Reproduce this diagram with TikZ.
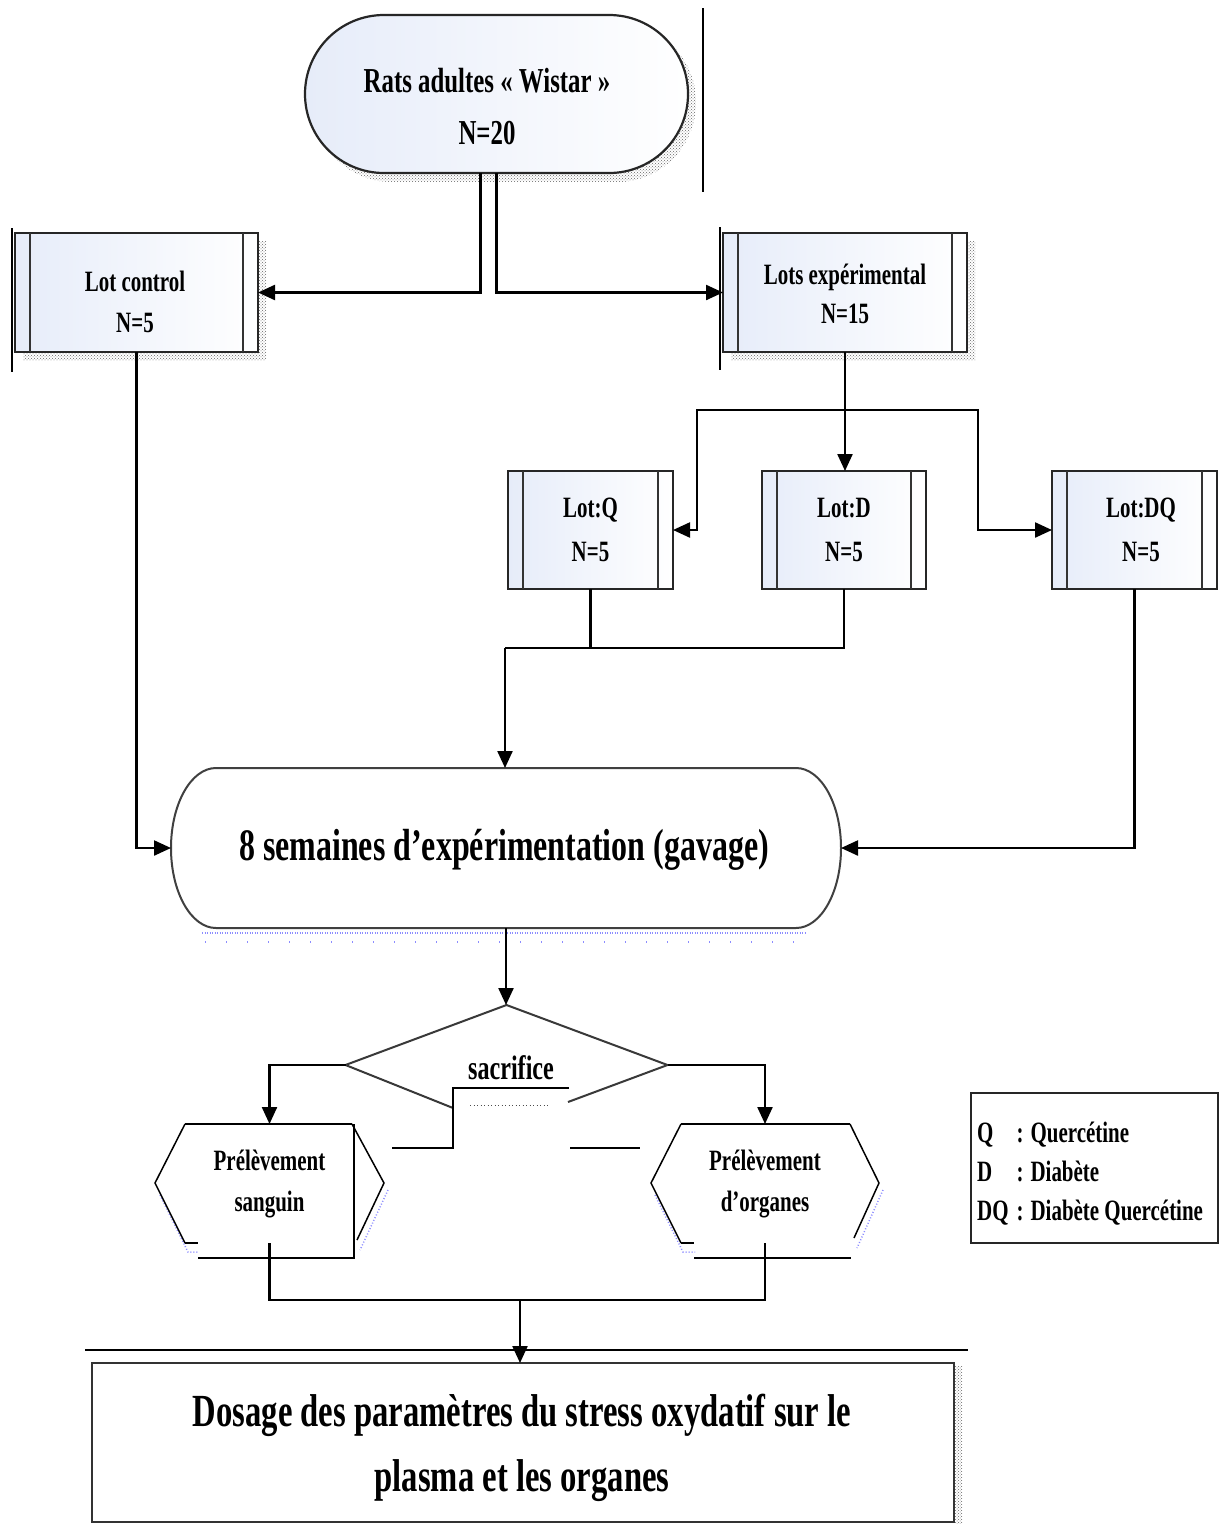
\documentclass[tikz,border=0pt]{standalone}
\usepackage{fontspec}
\setmainfont{Liberation Serif}[FakeStretch=0.71]
\usetikzlibrary{arrows.meta,patterns,shapes.geometric}
\definecolor{boxblue}{RGB}{230,236,249}
\begin{document}
\begin{tikzpicture}[x=1pt,y=-1pt,
  conn/.style={line width=2.3pt},
  arr/.style={line width=2.3pt,-{Triangle[length=17pt,width=15pt]}},
  lotbox/.style={draw=black!85,line width=2.2pt,left color=boxblue,right color=white,inner sep=0pt,outer sep=0pt,minimum height=119},
  ghost/.style={inner sep=0pt,outer sep=0pt},
  shadowdots/.style={pattern=crosshatch dots,pattern color=black!60},
  hexline/.style={line width=1.5pt},
  bluedots/.style={blue!45,line width=1.5pt,dash pattern=on 1pt off 2pt},
  artifact/.style={line width=1.2pt},
  t27/.style={inner sep=0pt,align=center,font=\bfseries\fontsize{29.5}{#1}\selectfont}
]
\fill[white] (0,0) rectangle (1220,1524);
\useasboundingbox (0,0) rectangle (1220,1524);

% shadows
\fill[shadowdots,rounded corners=78.9] (313,23) rectangle (696,182);
\fill[shadowdots] (23,241) rectangle (266,360);
\fill[shadowdots] (731,241) rectangle (975,360);
\fill[shadowdots] (955,1366) rectangle (962,1524);
\draw[blue!45,line width=1.2pt,dash pattern=on 1pt off 1.5pt] (202,933) -- (807,933);
\draw[blue!45,line width=1.2pt,dash pattern=on 1pt off 20pt] (205,942) -- (807,942);

% top box
\node[lotbox,rounded corners=78.9,minimum width=383,minimum height=158] (rats) at (496.5,94) {};
\node[inner sep=0pt,align=center,font=\bfseries\fontsize{35}{52}\selectfont] (ratsT) at (487,107) {Rats adultes « Wistar »\\N=20};

% lots
\node[lotbox,minimum width=243] (lotc) at (136.5,292.5) {};
\node[t27=41] (lotcT) at (135,302) {Lot control\\N=5};
\node[lotbox,minimum width=244] (lotx) at (845,292.5) {};
\node[t27=39] (lotxT) at (845,293.5) {Lots expérimental\\N=15};
\node[lotbox,minimum width=165,minimum height=118] (lotQ) at (590.5,530) {};
\node[t27=44] (lotQT) at (590.5,530) {Lot:Q\\N=5};
\node[lotbox,minimum width=164,minimum height=118] (lotD) at (844,530) {};
\node[t27=44] (lotDT) at (844,530) {Lot:D\\N=5};
\node[lotbox,minimum width=165,minimum height=118] (lotDQ) at (1134.5,530) {};
\node[t27=44] (lotDQT) at (1141,530) {Lot:DQ\\N=5};
\foreach \n in {lotc,lotx,lotQ,lotD,lotDQ}{
  \draw[line width=1.5pt,black!80] ([xshift=15]\n.north west) -- ([xshift=15]\n.south west);
  \draw[line width=1.5pt,black!80] ([xshift=-15]\n.north east) -- ([xshift=-15]\n.south east);
}

% big box
\node[ghost,minimum width=670,minimum height=160] (big) at (506,848) {};
\draw[black!75,line width=2pt] (216,768) -- (796,768) arc[start angle=-90,end angle=90,x radius=45,y radius=80] -- (216,928) arc[start angle=90,end angle=270,x radius=45,y radius=80] -- cycle;
\node[anchor=base,inner sep=0pt,font=\bfseries\fontsize{45}{45}\selectfont] (bigT) at (504,860) {8 semaines d’expérimentation (gavage)};

% diamond
\node[diamond,ghost,minimum width=322,minimum height=120] (sac) at (506.5,1065) {};
\draw[gray!45!black,line width=2pt] (453,1108) -- (sac.west) -- (sac.north) -- (sac.east) -- (568,1102);
\node[anchor=base,inner sep=0pt,font=\bfseries\fontsize{34}{34}\selectfont] (sacT) at (511,1079) {sacrifice};
\draw[artifact] (569,1088) -- (453,1088) -- (453,1148) -- (392,1148);
\draw[artifact] (570,1148) -- (640,1148);
\draw[black!70,line width=1pt,dash pattern=on 1pt off 2.5pt] (470,1105) -- (550,1105);

% hexagons
\node[ghost,minimum width=229,minimum height=119,align=center,font=\bfseries\fontsize{29.5}{41}\selectfont] (hexL) at (269.5,1183.5) {Prélèvement\\sanguin};
\node[ghost,minimum width=228,minimum height=119,align=center,font=\bfseries\fontsize{29.5}{41}\selectfont] (hexR) at (765,1183.5) {Prélèvement\\d’organes};
\draw[bluedots] (160,1195) -- (188,1252) -- (199,1252);
\draw[bluedots] (388,1190) -- (360,1250);
\draw[bluedots] (655,1195) -- (683,1252) -- (695,1252);
\draw[bluedots] (883,1190) -- (857,1248);
\draw[line width=2.6pt] (185,1124) -- (352,1124);
\draw[hexline] (185,1124) -- (155,1183) -- (185,1243);
\draw[line width=2.8pt] (185,1243) -- (198,1243);
\draw[hexline] (352,1124) -- (384,1183) -- (357,1240);
\draw[hexline] (354,1124) -- (354,1258) -- (198,1258);
\draw[line width=2.6pt] (681,1124) -- (850,1124);
\draw[hexline] (681,1124) -- (651,1183) -- (681,1243);
\draw[line width=2.8pt] (681,1243) -- (694,1243);
\draw[hexline] (850,1124) -- (879,1183) -- (854,1238);
\draw[hexline] (694,1258) -- (851,1258);

% bottom box
\node[ghost,draw=black!80,line width=2pt,minimum width=862,minimum height=159] (dose) at (523,1442.5) {};
\node[inner sep=0pt,align=center,font=\bfseries\fontsize{46}{65}\selectfont] (doseT) at (522,1448) {Dosage des paramètres du stress oxydatif sur le\\plasma et les organes};

% legend
\node[ghost,draw=black!85,line width=1.8pt,minimum width=247,minimum height=150] (leg) at (1094.5,1168) {};
\node[anchor=base west,inner sep=0pt,font=\bfseries\fontsize{29.5}{39}\selectfont] (legT) at (977,1142) {\begin{tabular}[t]{@{}l@{\hspace{8pt}}l@{\hspace{7pt}}l@{}}Q & : & Quercétine\\ D & : & Diabète\\ DQ & : & Diabète Quercétine\end{tabular}};

% artifacts
\draw[artifact] (703,8) -- (703,192);
\draw[artifact] (12,228) -- (12,372);
\draw[artifact] (720,227) -- (720,370);
\draw[artifact] (85,1350) -- (968,1350);

% connectors
\draw[arr] ([xshift=-16]rats.south) |- (lotc.east);
\draw[arr] (rats.south) |- (lotx.west);
\draw[arr] (lotx.south) -- (lotx.south |- lotD.north);
\coordinate (br) at (845,410);
\draw[arr] (br) -| ([xshift=24]lotQ.east) -- (lotQ.east);
\draw[arr] (br) -| ([xshift=-74]lotDQ.west) -- (lotDQ.west);
\coordinate (j1) at (505,648);
\draw[conn] (lotQ.south) -- (lotQ.south |- j1);
\draw[conn] (lotD.south) |- (j1);
\draw[arr] (j1) -- (j1 |- big.north);
\draw[arr] (lotc.south) |- (big.west);
\draw[arr] (lotDQ.south) |- (big.east);
\draw[arr] (big.south) -- (big.south |- sac.north);
\draw[arr] (sac.west) -| (hexL.north);
\draw[arr] (sac.east) -| (hexR.north);
\coordinate (j2) at (520,1300);
\draw[conn] (hexL.south) |- (j2 -| hexR.south) -- (hexR.south);
\draw[arr] (j2) -- (j2 |- dose.north);
\end{tikzpicture}
\end{document}
